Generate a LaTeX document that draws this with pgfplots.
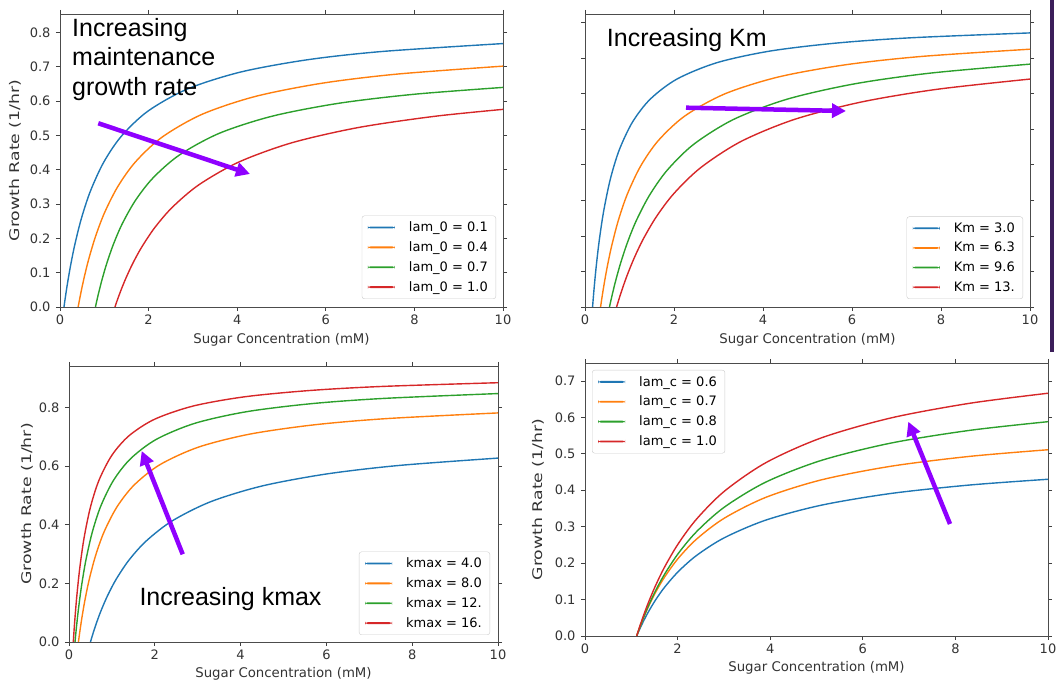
\documentclass[border=0pt]{standalone}
\usepackage{fontspec}
\setmainfont{DejaVu Sans}
\newfontfamily\arialf{Liberation Sans}
\usepackage{pgfplots}
\pgfplotsset{compat=1.18}
\usetikzlibrary{arrows.meta}
\definecolor{tabblue}{HTML}{1F77B4}
\definecolor{taborange}{HTML}{FF7F0E}
\definecolor{tabgreen}{HTML}{2CA02C}
\definecolor{tabred}{HTML}{D62728}
\definecolor{arrowpurple}{RGB}{143,0,255}
\definecolor{barpurple}{RGB}{60,30,90}
\newcommand{\ylab}{\scalebox{1.3}[1]{Growth Rate (1/hr)}}
\pgfplotsset{
  panel/.style={
    scale only axis, xmin=0, xmax=10, ymin=0,
    xtick={0,2,4,6,8,10},
    tick align=outside, major tick length=4pt,
    tick style={black!75, line width=0.7pt},
    axis line style={black!70, line width=0.8pt},
    tick label style={font=\fontsize{13}{15}\selectfont, black!80},
    /pgf/number format/assume math mode=true,
    yticklabel style={xshift=-2pt, /pgf/number format/fixed, /pgf/number format/fixed zerofill, /pgf/number format/precision=1},
    label style={font=\fontsize{13.3}{15}\selectfont, black!80},
    legend cell align=left,
    legend image code/.code={\fill[##1, draw=none] (0pt,-0.9pt) rectangle (27pt,0.9pt);},
    legend style={draw=black!20, rounded corners=2.5pt, font=\fontsize{13}{15}\selectfont, fill=white, inner xsep=6pt, inner ysep=4pt, row sep=4.5pt, /tikz/every odd column/.append style={column sep=12pt}},
  },
  crv/.style={line width=1.4pt, smooth, tension=0.5, no marks},
}
\begin{document}
\begin{tikzpicture}
\path[use as bounding box] (0pt,0pt) rectangle (1058pt,682pt);

% Panel 1
\begin{axis}[panel, at={(60pt,375pt)}, anchor=south west, width=443pt, height=293pt,
  ymax=0.854, ytick={0,0.1,...,0.8},
  xlabel={Sugar Concentration (mM)}, ylabel={\ylab},
  xlabel style={at={(axis description cs:0.5,-0.1126)}, anchor=center},
  ylabel style={at={(axis description cs:-0.1016,0.5)}, anchor=center},
  legend style={at={(axis description cs:1,0)}, anchor=south east, xshift=-7pt, yshift=8pt}]
\addplot[crv, tabblue] coordinates {(0.09,0) (0.12,0.0276) (0.17,0.0697) (0.24,0.1217) (0.34,0.1850) (0.49,0.2613) (0.69,0.3389) (0.99,0.4227) (1.39,0.4985) (1.99,0.5714) (2.89,0.6361) (4.09,0.6852) (5.59,0.7207) (7.29,0.7449) (10,0.7678)};
\addlegendentry{lam\_0 = 0.1}
\addplot[crv, taborange] coordinates {(0.41,0) (0.44,0.0208) (0.49,0.0531) (0.56,0.0939) (0.66,0.1449) (0.81,0.2087) (1.01,0.2762) (1.31,0.3521) (1.71,0.4239) (2.31,0.4956) (3.21,0.5618) (4.41,0.6137) (5.91,0.6521) (7.61,0.6788) (10,0.7020)};
\addlegendentry{lam\_0 = 0.4}
\addplot[crv, tabgreen] coordinates {(0.80,0) (0.83,0.0176) (0.88,0.0452) (0.95,0.0804) (1.05,0.1247) (1.20,0.1809) (1.40,0.2412) (1.70,0.3101) (2.10,0.3762) (2.70,0.4434) (3.60,0.5065) (4.80,0.5565) (6.30,0.5939) (8.00,0.6201) (10,0.6400)};
\addlegendentry{lam\_0 = 0.7}
\addplot[crv, tabred] coordinates {(1.24,0) (1.27,0.0114) (1.32,0.0295) (1.39,0.0534) (1.49,0.0847) (1.64,0.1263) (1.84,0.1736) (2.14,0.2315) (2.54,0.2912) (3.14,0.3566) (4.04,0.4227) (5.24,0.4789) (6.74,0.5232) (8.44,0.5555) (10,0.5760)};
\addlegendentry{lam\_0 = 1.0}
\end{axis}

% Panel 2
\begin{axis}[panel, at={(585pt,375pt)}, anchor=south west, width=445pt, height=293pt,
  ymax=0.824, ytick={0,0.1,...,0.8}, yticklabels={},
  xlabel={Sugar Concentration (mM)},
  xlabel style={at={(axis description cs:0.5,-0.1126)}, anchor=center},
  legend style={at={(axis description cs:1,0)}, anchor=south east, xshift=-7pt, yshift=8pt}]
\addplot[crv, tabblue] coordinates {(0.17,0) (0.20,0.0458) (0.25,0.1117) (0.32,0.1869) (0.42,0.2700) (0.57,0.3600) (0.77,0.4418) (1.07,0.5207) (1.47,0.5850) (2.07,0.6413) (2.97,0.6873) (4.17,0.7200) (5.67,0.7425) (7.37,0.7574) (10,0.7708)};
\addlegendentry{Km = 3.0}
\addplot[crv, taborange] coordinates {(0.35,0) (0.38,0.0256) (0.43,0.0647) (0.50,0.1132) (0.60,0.1723) (0.75,0.2439) (0.95,0.3170) (1.25,0.3963) (1.65,0.4684) (2.25,0.5378) (3.15,0.5998) (4.35,0.6470) (5.85,0.6811) (7.55,0.7045) (10,0.7250)};
\addlegendentry{Km = 6.3}
\addplot[crv, tabgreen] coordinates {(0.55,0) (0.58,0.0172) (0.63,0.0442) (0.70,0.0790) (0.80,0.1233) (0.95,0.1801) (1.15,0.2422) (1.45,0.3144) (1.85,0.3851) (2.45,0.4583) (3.35,0.5282) (4.55,0.5847) (6.05,0.6274) (7.75,0.6576) (10,0.6830)};
\addlegendentry{Km = 9.6}
\addplot[crv, tabred] coordinates {(0.71,0) (0.74,0.0125) (0.79,0.0326) (0.86,0.0589) (0.96,0.0933) (1.11,0.1391) (1.31,0.1913) (1.61,0.2551) (2.01,0.3209) (2.61,0.3929) (3.51,0.4658) (4.71,0.5277) (6.21,0.5765) (7.91,0.6122) (10,0.6410)};
\addlegendentry{Km = 13.}
\end{axis}

% Panel 3
\begin{axis}[panel, at={(69pt,40pt)}, anchor=south west, width=429pt, height=276pt,
  ymax=0.941, ytick={0,0.2,0.4,0.6,0.8},
  xlabel={Sugar Concentration (mM)}, ylabel={\ylab},
  xlabel style={at={(axis description cs:0.5,-0.116)}, anchor=center},
  ylabel style={at={(axis description cs:-0.0979,0.5)}, anchor=center},
  legend style={at={(axis description cs:1,0)}, anchor=south east, xshift=-8pt, yshift=7pt}]
\addplot[crv, tabblue] coordinates {(0.50,0) (0.53,0.0149) (0.58,0.0384) (0.65,0.0689) (0.75,0.1079) (0.90,0.1584) (1.10,0.2141) (1.40,0.2796) (1.80,0.3444) (2.40,0.4124) (3.30,0.4782) (4.50,0.5319) (6.00,0.5728) (7.70,0.6020) (10,0.6270)};
\addlegendentry{kmax = 4.0}
\addplot[crv, taborange] coordinates {(0.22,0) (0.25,0.0327) (0.30,0.0820) (0.37,0.1416) (0.47,0.2121) (0.62,0.2948) (0.82,0.3762) (1.12,0.4610) (1.52,0.5354) (2.12,0.6046) (3.02,0.6645) (4.22,0.7089) (5.72,0.7405) (7.42,0.7618) (10,0.7810)};
\addlegendentry{kmax = 8.0}
\addplot[crv, tabgreen] coordinates {(0.14,0) (0.17,0.0455) (0.22,0.1119) (0.29,0.1891) (0.39,0.2763) (0.54,0.3730) (0.74,0.4630) (1.04,0.5518) (1.44,0.6256) (2.04,0.6913) (2.94,0.7459) (4.14,0.7852) (5.64,0.8124) (7.34,0.8305) (10,0.8470)};
\addlegendentry{kmax = 12.}
\addplot[crv, tabred] coordinates {(0.10,0) (0.13,0.0642) (0.18,0.1533) (0.25,0.2508) (0.35,0.3537) (0.50,0.4599) (0.70,0.5518) (1.00,0.6367) (1.40,0.7033) (2.00,0.7598) (2.90,0.8047) (4.10,0.8361) (5.60,0.8573) (7.30,0.8713) (10,0.8840)};
\addlegendentry{kmax = 16.}
\end{axis}

% Panel 4
\begin{axis}[panel, at={(585pt,46pt)}, anchor=south west, width=463pt, height=273pt,
  ymax=0.749, ytick={0,0.1,...,0.7},
  xlabel={Sugar Concentration (mM)}, ylabel={\ylab},
  xlabel style={at={(axis description cs:0.5,-0.117)}, anchor=center},
  ylabel style={at={(axis description cs:-0.1015,0.5)}, anchor=center},
  legend style={at={(axis description cs:0,1)}, anchor=north west, xshift=7pt, yshift=-7pt}]
\addplot[crv, tabblue] coordinates {(1.116,0) (1.146,0.0089) (1.196,0.0229) (1.266,0.0414) (1.366,0.0655) (1.516,0.0973) (1.716,0.1333) (2.016,0.1769) (2.416,0.2216) (3.016,0.2700) (3.916,0.3184) (5.116,0.3592) (6.616,0.3912) (8.316,0.4143) (10,0.4300)};
\addlegendentry{lam\_c = 0.6}
\addplot[crv, taborange] coordinates {(1.116,0) (1.146,0.0108) (1.196,0.0279) (1.266,0.0503) (1.366,0.0795) (1.516,0.1179) (1.716,0.1611) (2.016,0.2134) (2.416,0.2665) (3.016,0.3238) (3.916,0.3809) (5.116,0.4287) (6.616,0.4659) (8.316,0.4929) (10,0.5110)};
\addlegendentry{lam\_c = 0.7}
\addplot[crv, tabgreen] coordinates {(1.116,0) (1.146,0.0109) (1.196,0.0283) (1.266,0.0513) (1.366,0.0816) (1.516,0.1222) (1.716,0.1689) (2.016,0.2267) (2.416,0.2871) (3.016,0.3541) (3.916,0.4229) (5.116,0.4822) (6.616,0.5295) (8.316,0.5643) (10,0.5880)};
\addlegendentry{lam\_c = 0.8}
\addplot[crv, tabred] coordinates {(1.116,0) (1.146,0.0121) (1.196,0.0314) (1.266,0.0570) (1.366,0.0908) (1.516,0.1361) (1.716,0.1885) (2.016,0.2535) (2.416,0.3217) (3.016,0.3978) (3.916,0.4762) (5.116,0.5441) (6.616,0.5985) (8.316,0.6386) (10,0.6660)};
\addlegendentry{lam\_c = 1.0}
\end{axis}

% Annotations
\node[anchor=base west, inner sep=0pt, font=\arialf\fontsize{25}{29}\selectfont] at (72pt,645.3pt) {Increasing};
\node[anchor=base west, inner sep=0pt, font=\arialf\fontsize{25}{29}\selectfont] at (72pt,616.7pt) {maintenance};
\node[anchor=base west, inner sep=0pt, font=\arialf\fontsize{25}{29}\selectfont] at (72pt,586.3pt) {growth rate};
\node[anchor=base west, inner sep=0pt, font=\arialf\fontsize{25}{29}\selectfont] at (606.7pt,635.3pt) {Increasing Km};
\node[anchor=base west, inner sep=0pt, font=\arialf\fontsize{25}{29}\selectfont] at (139.3pt,76pt) {Increasing kmax};

\tikzset{parrow/.style={arrowpurple, line width=4.5pt, -{Triangle[length=14pt,width=14pt]}}}
\draw[parrow] (98.3pt,558.7pt) -- (250pt,508pt);
\draw[parrow] (686pt,574.3pt) -- (846pt,571pt);
\draw[parrow] (182.7pt,127.7pt) -- (141.7pt,231pt);
\draw[parrow] (950pt,158pt) -- (908.3pt,260.3pt);

\draw[barpurple, line width=3.5pt] (1052pt,682pt) -- (1052pt,330pt);
\end{tikzpicture}
\end{document}
